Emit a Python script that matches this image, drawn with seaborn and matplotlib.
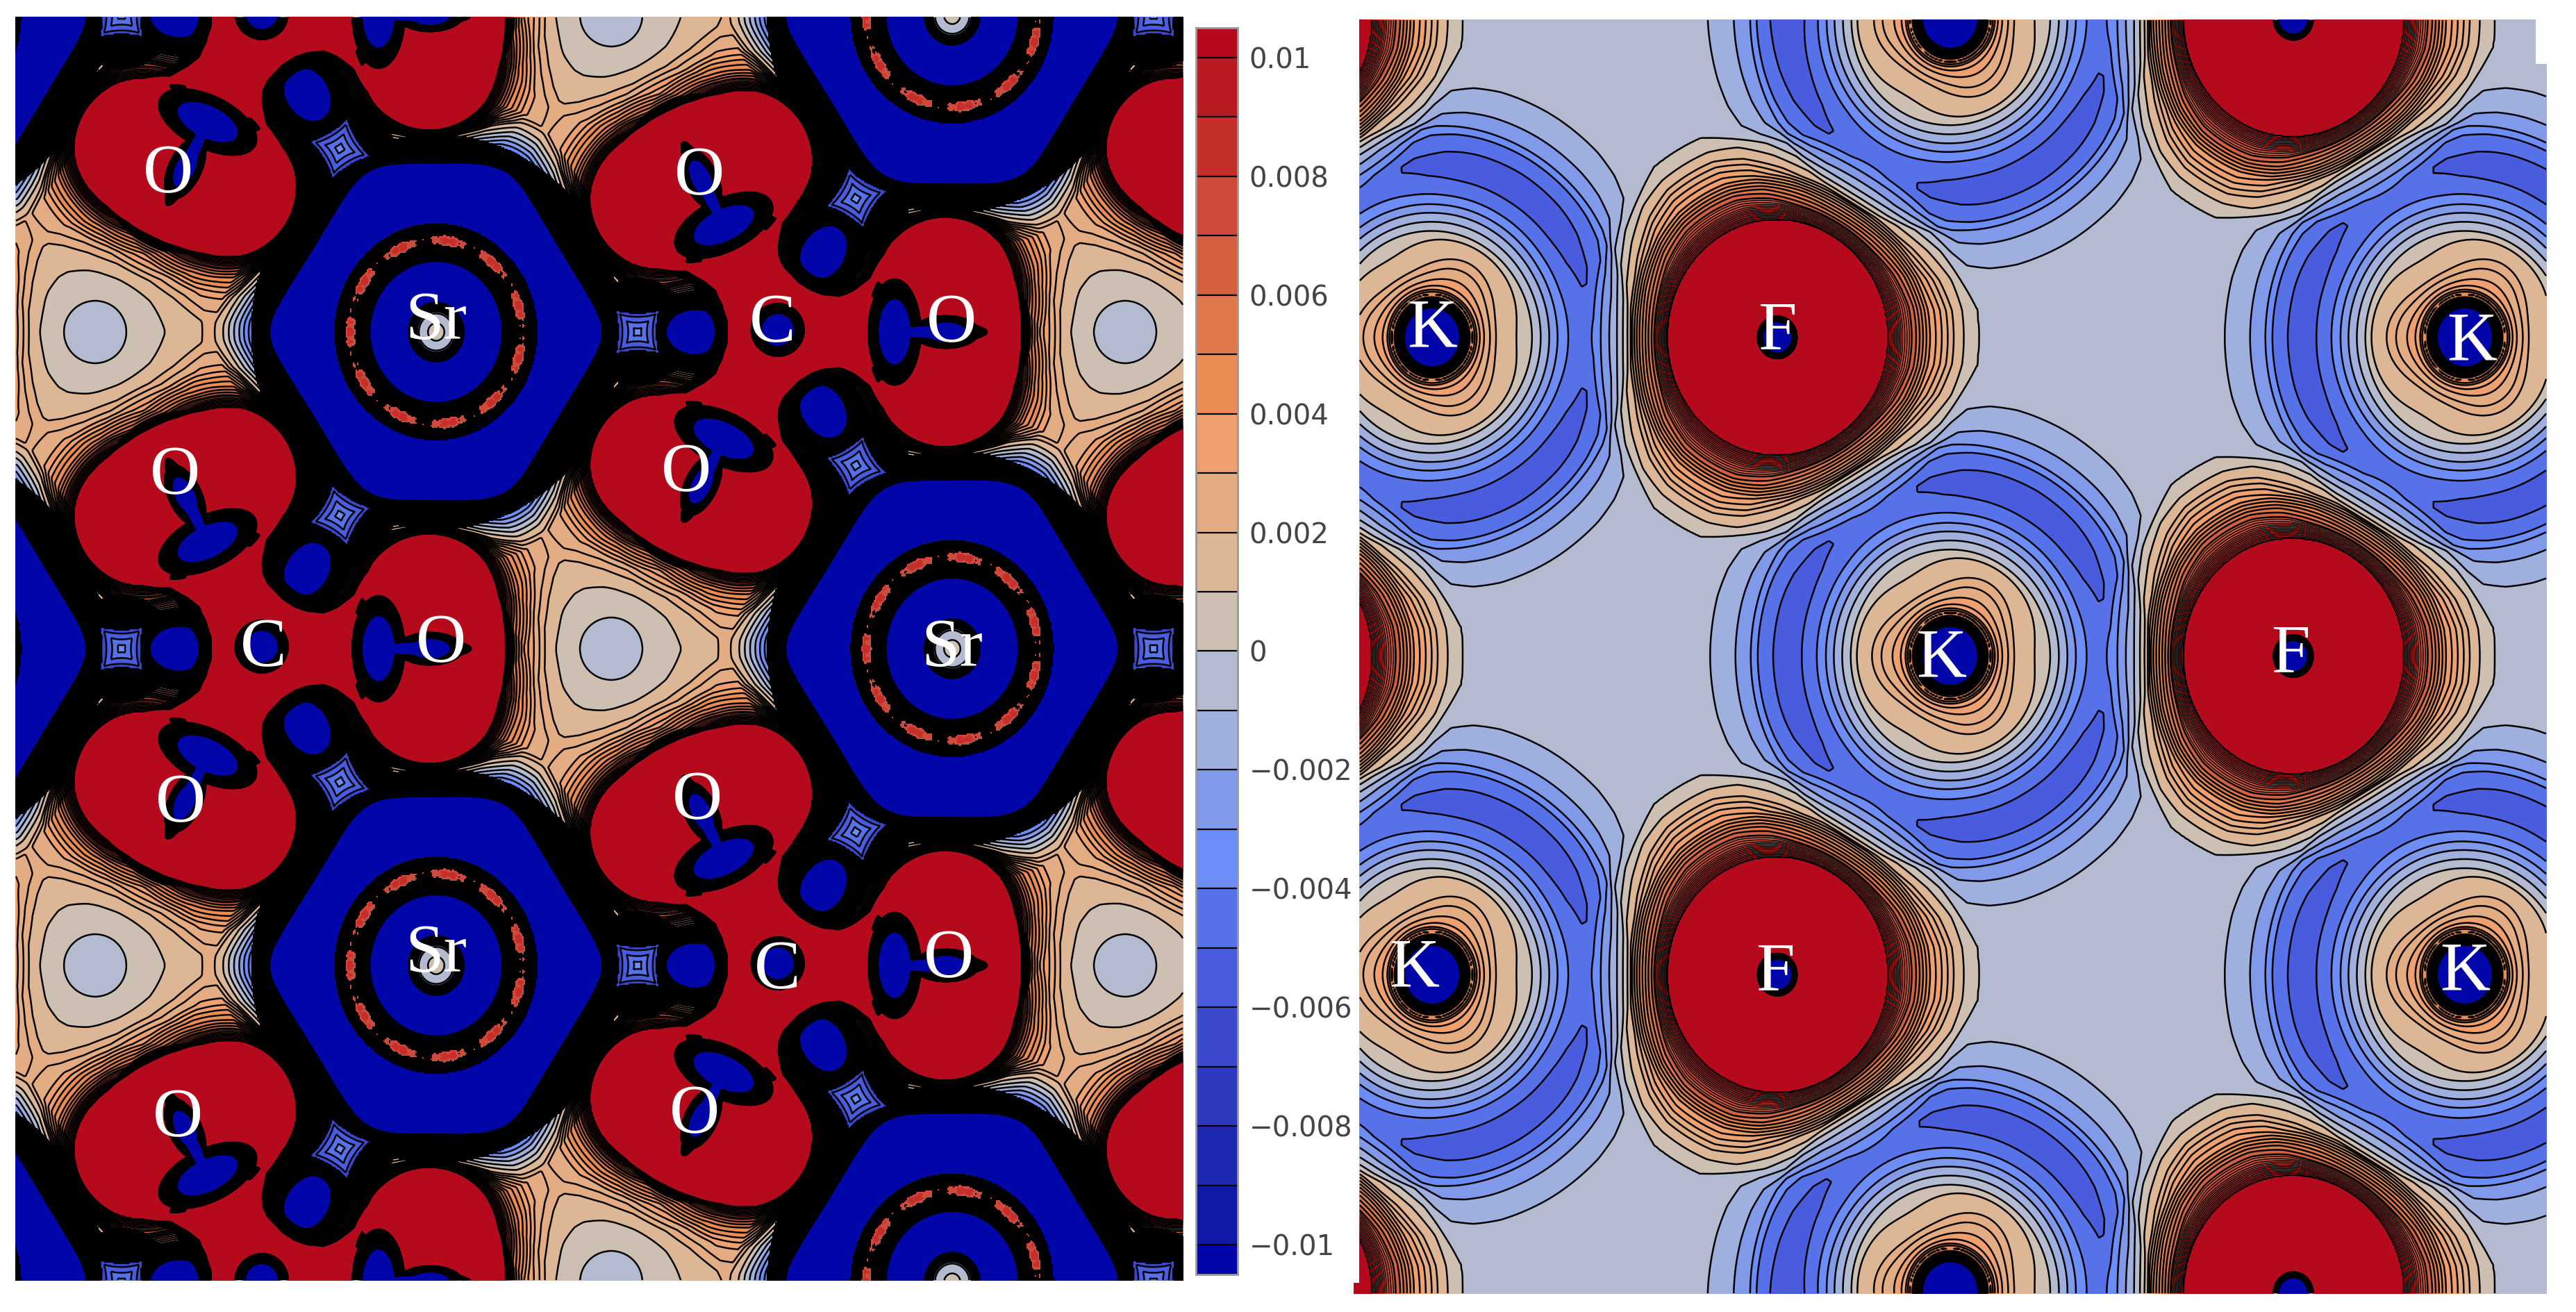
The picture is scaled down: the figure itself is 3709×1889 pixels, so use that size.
import numpy as np
import seaborn as sns
import matplotlib.pyplot as plt
from matplotlib.colors import ListedColormap, BoundaryNorm
from matplotlib.patches import Rectangle

# The source field is not published, so both maps are rebuilt from the atom sites
# and the radial profiles (distance in px -> value).

W, H = 3709, 1889
STEP = 2
SQUEEZE = 0.935  # the picture is narrower in x than in y

BAND_COLORS = ['#0206a8', '#1018a8', '#1e28b0', '#2e38be', '#3a48ce', '#4a5cde', '#5772e8', '#6c8cf8',
               '#8099e8', '#9fb0de', '#b4bbd0', '#cdbfb2', '#ddb795', '#e4ac82', '#efa06e', '#eb8c55',
               '#e0784b', '#d4603f', '#ce4a3a', '#c42e2b', '#b81c22', '#b40a1c']
BAND_EDGES = np.r_[-1.0, np.arange(-10, 11) * 0.001, 1.0]
LINE_LEVELS = np.r_[np.arange(-10, 2) * 0.001, np.arange(4, 14) * 0.0005]
THIN_LEVELS = np.arange(27, 41) * 0.00025

CBAR_TICKS = [0.01, 0.008, 0.006, 0.004, 0.002, 0, -0.002, -0.004, -0.006, -0.008, -0.01]
CBAR_LABELS = ['0.01', '0.008', '0.006', '0.004', '0.002', '0', '\u22120.002', '\u22120.004', '\u22120.006',
               '\u22120.008', '\u22120.01']

# left map: SrCO3
LEFT_BASE = 0.0019
SR_X = [628, 628, 1371, 1371, 1371, -115, -115, -115, 2114, 2114]
SR_Y = [478, 1390, 934, 22, 1846, 934, 22, 1846, 478, 1390]
C_X = [1117, 1117, 374, 374, 374, 1860, 1860, 1860, -369, -369]
C_Y = [478, 1390, 934, 22, 1846, 934, 22, 1846, 478, 1390]
HOLLOW_X = [137, 137, 880, 880, 880, 1620, 1620]
HOLLOW_Y = [478, 1390, 934, 22, 1846, 478, 1390]
BOND_ANGLE = [0, -116, 116]
POCKET_ANGLE = [180, -59, 59]
POCKET_DIST = [116, 134, 134]
STAR_DIST = [199, 224, 224]
HEX_NORMAL = [33, 90, 147, 213, 270, 327]
HEX_APOTHEM = [226, 245, 226, 226, 245, 226]
SR_R = [0, 28, 46, 52, 92, 100, 110, 124, 129, 135, 140, 150, 158, 168, 235, 245, 265, 293, 315, 330]
SR_V = [-0.001, -0.003, -0.014, -0.022, -0.022, -0.014, -0.004, 0.0055, 0.0066, 0.0068, 0.0055, -0.004, -0.014,
        -0.022, -0.022, -0.0125, -0.008, -0.004, -0.0012, 0]
LOBE_R = [0, 0.9, 1.0, 1.15, 1.3, 1.6, 2.0, 2.3]
LOBE_V = [0.03, 0.03, 0.008, 0.005, 0.0032, 0.0012, 0.0002, 0]
CORE_R = [0, 0.9, 1.0, 1.5]
CORE_V = [0.03, 0.03, 0.008, 0]
HOLE_R = [0, 1.0, 1.6, 1.9]
HOLE_V = [-0.07, -0.042, -0.022, 0]
POCKET_R = [0, 1.0, 1.15, 1.4, 1.8, 2.4]
POCKET_V = [-0.03, -0.0135, -0.009, -0.005, -0.002, 0]
HOLLOW_R = [0, 45, 100, 160]
HOLLOW_V = [-0.0025, -0.0019, -0.0009, 0]

# right map: KF
F_X = [2559, 2559, 3302, 3302, 3302, 1816, 1816, 1816, 4045, 4045]
F_Y = [486, 1404, 945, 27, 1863, 945, 27, 1863, 486, 1404]
K_X = [2062, 2062, 2808, 2808, 2808, 3549, 3549, 1319, 1319, 1319, 4291, 4291, 4291]
K_Y = [486, 1404, 945, 27, 1860, 486, 1404, 945, 27, 1863, 945, 27, 1863]
F_R = [0, 18, 24, 30, 34, 160, 169, 193, 214, 235, 257, 279, 294, 310, 342, 385, 460, 555]
F_V = [-0.03, -0.03, -0.005, 0.005, 0.03, 0.03, 0.0105, 0.008, 0.0065, 0.0045, 0.0033, 0.0021, 0.001, 0.0005,
       0.0003, 0.0002, 0.0001, 0]
K_R = [0, 34, 42, 52, 62, 70, 80, 90, 103, 138, 151, 164, 177, 189, 202, 220, 250, 282, 300, 309, 336, 377, 420]
K_V = [-0.02, -0.02, -0.011, 0.004, 0.0055, 0.0042, 0.0035, 0.0031, 0.0025, 0.0015, 0.0005, -0.0005, -0.0015,
       -0.0025, -0.0035, -0.0045, -0.0052, -0.0045, -0.0035, -0.0025, -0.0015, -0.0005, 0]

LEFT_LABELS = ['O', 'O', 'Sr', 'C', 'O', 'O', 'C', 'O', 'O', 'Sr', 'O', 'O', 'Sr', 'C', 'O', 'O', 'O']
LEFT_LABEL_X = [242, 252, 628, 379, 635, 1007, 1112, 1370, 988, 1371, 260, 1004, 628, 1119, 1366, 256, 1000]
LEFT_LABEL_Y = [252, 686, 464, 934, 928, 255, 467, 467, 682, 935, 1158, 1154, 1375, 1398, 1382, 1611, 1606]
RIGHT_LABELS = ['F', 'K', 'K', 'F', 'K', 'K', 'F', 'K']
RIGHT_LABEL_X = [2559, 2062, 2795, 3298, 3559, 2036, 2556, 3549]
RIGHT_LABEL_Y = [478, 475, 950, 944, 494, 1396, 1402, 1401]


def blob(gx, gy, x0, y0, along, across, angle):
    a = np.deg2rad(angle)
    dx, dy = gx - x0, gy - y0
    u = dx * np.cos(a) + dy * np.sin(a)
    v = -dx * np.sin(a) + dy * np.cos(a)
    return np.sqrt((u / along) ** 2 + (v / across) ** 2)


def left_field(gx, gy):
    red = np.zeros_like(gx, dtype=float)
    holes = np.zeros_like(gx, dtype=float)
    dark = np.zeros_like(gx, dtype=bool)
    no_lines = np.zeros_like(gx, dtype=bool)
    for cx, cy in zip(C_X, C_Y):
        for ang in BOND_ANGLE:
            a = np.deg2rad(ang)
            ux, uy, px, py = np.cos(a), np.sin(a), -np.sin(a), np.cos(a)
            for side in (-70, 70):
                red += np.interp(blob(gx, gy, cx + 244 * ux + side * px, cy + 244 * uy + side * py, 97, 97, 0),
                                 LOBE_R, LOBE_V)
            red += np.interp(blob(gx, gy, cx + 232 * ux, cy + 232 * uy, 90, 90, 0), CORE_R, CORE_V)
            red += np.interp(blob(gx, gy, cx + 120 * ux, cy + 120 * uy, 150, 52, ang), CORE_R, CORE_V)
            bell = np.minimum(np.interp(blob(gx, gy, cx + 171 * ux, cy + 171 * uy, 24, 48, ang), HOLE_R, HOLE_V),
                              np.interp(blob(gx, gy, cx + 225 * ux, cy + 225 * uy, 50, 10, ang), HOLE_R, HOLE_V))
            bell = np.minimum(bell, np.interp(blob(gx, gy, cx + 245 * ux, cy + 245 * uy, 30, 15, ang),
                                              HOLE_R, HOLE_V))
            holes += bell
        red += np.interp(blob(gx, gy, cx, cy, 70, 70, 0), CORE_R, CORE_V)
        holes += np.interp(blob(gx, gy, cx + 3, cy - 3, 24, 24, 0), HOLE_R, HOLE_V)
        for ang, dist in zip(POCKET_ANGLE, POCKET_DIST):
            a = np.deg2rad(ang)
            pocket = blob(gx, gy, cx + dist * np.cos(a), cy + dist * np.sin(a), 41, 32, ang)
            holes += np.interp(pocket, POCKET_R, POCKET_V)
            dark |= pocket < 1.75
    z = np.minimum(red, 0.03) + holes + LEFT_BASE
    for hx, hy in zip(HOLLOW_X, HOLLOW_Y):
        z += np.interp(np.hypot(gx - hx, gy - hy), HOLLOW_R, HOLLOW_V)
    for sx, sy in zip(SR_X, SR_Y):
        dx, dy = (gx - sx) / SQUEEZE, gy - sy
        r = np.hypot(dx, dy)
        theta = np.arctan2(dy, dx)
        # outer blue edge is a rounded hexagon
        d = [np.clip(dx * np.cos(np.deg2rad(n)) + dy * np.sin(np.deg2rad(n)), 0, None) / ap
             for n, ap in zip(HEX_NORMAL, HEX_APOTHEM)]
        hex_r = 245 * np.sum(np.power(d, 12), axis=0) ** (1 / 12)
        t = np.clip((r - 170) / 40, 0, 1)
        z += np.interp((1 - t) * r + t * hex_r, SR_R, SR_V)
        # the thin red ring breaks up into dashes
        gaps = 0.0015 * (0.5 + 0.5 * np.cos(11 * theta)) + 0.0006 * (0.5 + 0.5 * np.cos(53 * theta))
        z -= gaps * np.interp(r, [118, 132, 148], [0, 1, 0])
        dark |= (r > 30) & (r < 285)
        no_lines |= (r > 104) & (r < 162)
    dark &= np.abs(z) < 0.01
    dark &= ~(no_lines & (z > 0.0074))
    # star-shaped blue patches between Sr and the pockets
    for cx, cy in zip(C_X, C_Y):
        for ang, dist in zip(POCKET_ANGLE, STAR_DIST):
            a = np.deg2rad(ang)
            sx, sy = cx + dist * np.cos(a), cy + dist * np.sin(a)
            du = (gx - sx) * np.cos(a + np.pi / 4) + (gy - sy) * np.sin(a + np.pi / 4)
            dv = -(gx - sx) * np.sin(a + np.pi / 4) + (gy - sy) * np.cos(a + np.pi / 4)
            star = (np.abs(du / 48) ** 0.8 + np.abs(dv / 48) ** 0.8) ** (1 / 0.8)
            dark |= (np.hypot(du, dv) < 78) & (np.abs(z) < 0.01)
            dark &= ~(star < 1)
            z[star < 1] = -0.0034 - 0.0034 * star[star < 1]
    return z, dark, no_lines


def right_field(gx, gy):
    z = np.full_like(gx, -0.0005, dtype=float)
    dark = np.zeros_like(gx, dtype=bool)
    for fx, fy in zip(F_X, F_Y):
        z += np.interp(np.hypot((gx - fx) / SQUEEZE, gy - fy), F_R, F_V)
    for kx, ky in zip(K_X, K_Y):
        dx, dy = (gx - kx) / SQUEEZE, gy - ky
        r = np.hypot(dx, dy)
        # the inner rings of K are rounded triangles, tips away from the F neighbours
        taper = np.interp(r, [70, 100, 125, 150], [0, 1, 1, 0])
        z += np.interp(r * (1 + 0.1 * taper * np.cos(3 * np.arctan2(dy, dx))), K_R, K_V)
        dark |= r < 58
    dark &= np.abs(z) < 0.01
    return z, dark, np.zeros_like(gx, dtype=bool)


def draw_map(fig, box, field_func, labels, label_x, label_y):
    x0, y0, x1, y1 = box
    ax = fig.add_axes([x0 / W, 1 - y1 / H, (x1 - x0) / W, (y1 - y0) / H])
    xs = np.arange(x0, x1, STEP) + STEP / 2
    ys = np.arange(y0, y1, STEP) + STEP / 2
    gx, gy = np.meshgrid(xs, ys)
    z, dark, no_lines = field_func(gx, gy)
    sns.heatmap(z, ax=ax, cmap=band_cmap, norm=band_norm, cbar=False, xticklabels=False, yticklabels=False)
    sns.heatmap(np.zeros_like(z), mask=~dark, ax=ax, cmap=ListedColormap(['#000000']), cbar=False,
                xticklabels=False, yticklabels=False)
    lined = np.ma.masked_where(no_lines, z)
    ax.contour((gx - x0) / STEP, (gy - y0) / STEP, lined, levels=LINE_LEVELS, colors='black', linewidths=1.8,
               linestyles='solid')
    ax.contour((gx - x0) / STEP, (gy - y0) / STEP, lined, levels=THIN_LEVELS, colors='black', linewidths=1.0,
               linestyles='solid')
    for name, lx, ly in zip(labels, label_x, label_y):
        ax.text((lx - x0) / STEP, (ly - y0) / STEP, name, color='white', fontsize=72, ha='center', va='center',
                family='Liberation Serif')
    return ax


sns.set_theme(style='white')
band_cmap = ListedColormap(BAND_COLORS)
band_norm = BoundaryNorm(BAND_EDGES, band_cmap.N)

fig = plt.figure(figsize=(W / 100, H / 100), dpi=100)
draw_map(fig, (22, 24, 1704, 1844), left_field, LEFT_LABELS, LEFT_LABEL_X, LEFT_LABEL_Y)
draw_map(fig, (1957, 28, 3667, 1863), right_field, RIGHT_LABELS, RIGHT_LABEL_X, RIGHT_LABEL_Y)

# the right map has a cut corner at the top right and a red tab at the bottom left
fig.add_artist(Rectangle((3651 / W, 1 - 92 / H), 20 / W, 66 / H, transform=fig.transFigure, color='white', lw=0))
fig.add_artist(Rectangle((1949 / W, 1 - 1863 / H), 9 / W, 16 / H, transform=fig.transFigure, color='#b40a1c', lw=0))

# colour bar
cax = fig.add_axes([1722 / W, 1 - 1835 / H, 60 / W, 1795 / H])
cells = (np.arange(21, -21, -1) - 0.5) * 0.0005
sns.heatmap(cells.reshape(-1, 1), ax=cax, cmap=band_cmap, norm=band_norm, cbar=False, xticklabels=False)
cax.hlines((0.0105 - np.arange(-10, 11) * 0.001) / 0.0005, 0, 1, color='black', linewidth=1.6)
cax.yaxis.tick_right()
cax.set_yticks([(0.0105 - v) / 0.0005 for v in CBAR_TICKS])
cax.set_yticklabels(CBAR_LABELS, rotation=0, fontsize=29, color='#444444', family='DejaVu Sans')
cax.tick_params(axis='y', length=0, pad=12)
for side in cax.spines.values():
    side.set_visible(True)
    side.set_color('#999999')
    side.set_linewidth(2)

fig.savefig('out.png', dpi=100, facecolor='white')
